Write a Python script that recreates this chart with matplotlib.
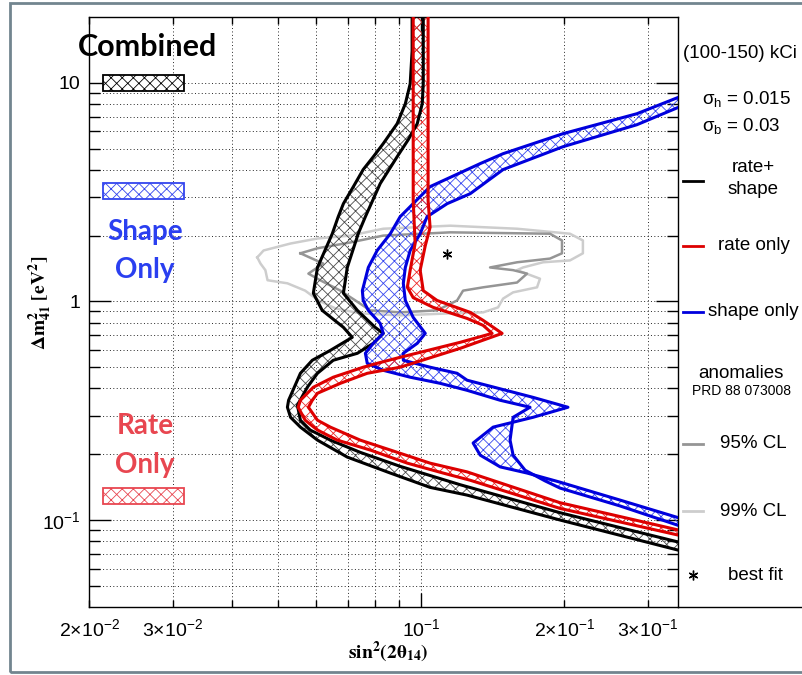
import numpy as np
import matplotlib.pyplot as plt
from matplotlib.patches import Rectangle
from matplotlib.ticker import FixedLocator, FuncFormatter

plt.rcParams['font.family'] = ['Liberation Sans', 'DejaVu Sans']
plt.rcParams['mathtext.fontset'] = 'custom'
plt.rcParams['mathtext.rm'] = 'Liberation Sans'
plt.rcParams['mathtext.it'] = 'Liberation Sans:italic'
plt.rcParams['mathtext.bf'] = 'Liberation Sans:bold'
plt.rcParams['hatch.linewidth'] = 0.6

# --- contour data: sin^2(2theta14), dm^2_41 [eV^2] --- #
# rate+shape band, outer (left) and inner (right) contour
comb_a_x = [0.0957, 0.0957, 0.0948, 0.0926, 0.0890, 0.0832, 0.0793, 0.0755, 0.0720, 0.0686,
            0.0669, 0.0650, 0.0605, 0.0593, 0.0619, 0.0686, 0.0716, 0.0644, 0.0590, 0.0557,
            0.0526, 0.0523, 0.0531, 0.0557, 0.0605, 0.0699, 0.0861, 0.1044, 0.1249, 0.1959, 0.350]
comb_a_y = [21, 14, 9.89, 8.02, 6.50, 5.27, 4.59, 4.01, 3.35, 2.80,
            2.44, 2.04, 1.43, 1.09, 0.910, 0.761, 0.685, 0.597, 0.538, 0.469,
            0.353, 0.328, 0.295, 0.266, 0.232, 0.194, 0.164, 0.141, 0.130, 0.100, 0.0725]
comb_b_x = [0.1010, 0.1010, 0.1010, 0.1005, 0.0981, 0.0939, 0.0890, 0.0820, 0.0763, 0.0737,
            0.0699, 0.0686, 0.0734, 0.0800, 0.0832, 0.0793, 0.0734, 0.0653, 0.0605, 0.0576,
            0.0549, 0.0557, 0.0584, 0.0644, 0.0744, 0.0903, 0.1208, 0.1959, 0.350]
comb_b_y = [21, 14, 9.89, 8.02, 6.50, 5.49, 4.59, 3.46, 2.44, 2.04,
            1.43, 1.09, 0.910, 0.761, 0.714, 0.643, 0.579, 0.538, 0.469, 0.405,
            0.335, 0.286, 0.258, 0.232, 0.204, 0.176, 0.145, 0.108, 0.079]

# rate only band
rate_a_x = [0.0962, 0.0962, 0.0971, 0.0948, 0.0935, 0.0962, 0.1060, 0.1249, 0.1350, 0.1410,
            0.1208, 0.0903, 0.0808, 0.0755, 0.0653, 0.0593, 0.0557, 0.0551, 0.0570, 0.0605,
            0.0666, 0.0781, 0.0935, 0.1112, 0.1268, 0.1959, 0.350]
rate_a_y = [21, 2.89, 1.84, 1.39, 1.16, 1.04, 0.939, 0.836, 0.777, 0.714,
            0.650, 0.555, 0.521, 0.500, 0.450, 0.405, 0.353, 0.328, 0.286, 0.258,
            0.232, 0.209, 0.182, 0.164, 0.152, 0.113, 0.0850]
rate_b_x = [0.1034, 0.1034, 0.1044, 0.1020, 0.0995, 0.1010, 0.1080, 0.1268, 0.1350, 0.1480,
            0.1208, 0.0903, 0.0770, 0.0676, 0.0605, 0.0590, 0.0579, 0.0605, 0.0644, 0.0744,
            0.0861, 0.1044, 0.1249, 0.1959, 0.350]
rate_b_y = [21, 2.89, 2.18, 1.80, 1.39, 1.12, 1.01, 0.891, 0.819, 0.714,
            0.610, 0.500, 0.469, 0.422, 0.380, 0.353, 0.328, 0.286, 0.266, 0.232,
            0.209, 0.182, 0.166, 0.120, 0.0897]

# shape only band
shape_a_x = [0.350, 0.2843, 0.1987, 0.1487, 0.1331, 0.1044, 0.0903, 0.0861, 0.0808, 0.0774,
             0.0752, 0.0755, 0.0774, 0.0820, 0.0832, 0.0793, 0.0763, 0.0770, 0.0832, 0.0948,
             0.1096, 0.1249, 0.1466, 0.1694, 0.1561, 0.1538, 0.1561, 0.1654, 0.1822, 0.1959,
             0.2619, 0.350]
shape_a_y = [8.63, 7.22, 5.85, 4.74, 4.27, 3.35, 2.44, 2.04, 1.71, 1.43,
             1.12, 1.01, 0.910, 0.793, 0.714, 0.643, 0.579, 0.521, 0.484, 0.450,
             0.422, 0.392, 0.353, 0.328, 0.295, 0.232, 0.198, 0.169, 0.151, 0.140,
             0.116, 0.0940]
shape_b_x = [0.350, 0.2843, 0.1987, 0.1487, 0.1268, 0.1134, 0.1029, 0.0995, 0.0948, 0.0926,
             0.0917, 0.0926, 0.0962, 0.1020, 0.0981, 0.0917, 0.0917, 0.1044, 0.1190, 0.1249,
             0.1719, 0.2036, 0.1719, 0.1417, 0.1286, 0.1331, 0.1466, 0.1670, 0.1959, 0.2619,
             0.350]
shape_b_y = [7.77, 6.43, 5.10, 4.01, 3.11, 2.80, 2.44, 2.04, 1.71, 1.43,
             1.21, 1.01, 0.845, 0.714, 0.643, 0.579, 0.538, 0.500, 0.469, 0.436,
             0.364, 0.328, 0.295, 0.266, 0.225, 0.198, 0.175, 0.164, 0.149, 0.1234,
             0.102]

# anomalies (PRD 88 073008)
cl99_x = [0.0452, 0.0466, 0.0531, 0.0605, 0.0709, 0.0832, 0.1151, 0.1591, 0.2056, 0.2189,
          0.2189, 0.2056, 0.1804, 0.1638, 0.1591, 0.1778, 0.1753, 0.1561, 0.1487, 0.1451,
          0.1350, 0.1151, 0.0903, 0.0744, 0.0660, 0.0608, 0.0570, 0.0523, 0.0475, 0.0470,
          0.0459, 0.0452]
cl99_y = [1.59, 1.71, 1.84, 1.94, 2.00, 2.15, 2.22, 2.15, 2.04, 1.90,
          1.66, 1.54, 1.51, 1.43, 1.39, 1.27, 1.16, 1.10, 1.03, 0.939,
          0.891, 0.882, 0.863, 0.882, 0.929, 1.01, 1.12, 1.21, 1.25, 1.39,
          1.49, 1.59]
cl95_x = [0.0557, 0.0605, 0.0709, 0.0832, 0.1151, 0.1866, 0.1978, 0.1978, 0.1866, 0.1591,
          0.1396, 0.1561, 0.1670, 0.1591, 0.1350, 0.1225, 0.1190, 0.1080, 0.0903, 0.0781,
          0.0727, 0.0676, 0.0613, 0.0579, 0.0622, 0.0557]
cl95_y = [1.66, 1.75, 1.86, 2.00, 2.07, 2.04, 1.90, 1.66, 1.57, 1.51,
          1.43, 1.39, 1.34, 1.22, 1.16, 1.12, 1.01, 0.910, 0.891, 0.910,
          1.01, 1.12, 1.25, 1.34, 1.49, 1.66]
best_fit_x = [0.1134]
best_fit_y = [1.64]

x_tick_vals = [0.02, 0.03, 0.1, 0.2, 0.3]
x_tick_text = [r'$2{\times}10^{-2}$', r'$3{\times}10^{-2}$', r'$10^{-1}$',
               r'$2{\times}10^{-1}$', r'$3{\times}10^{-1}$']
y_tick_vals = [0.1, 1, 10]
y_tick_text = [r'$10^{-1}$', '1', '10']

BLACK = '#000000'
RED = '#dd0000'
BLUE = '#0000dd'
GRAY95 = '#959595'
GRAY99 = '#cdcdcd'

W, H = 802, 675
fig = plt.figure(figsize=(W / 100, H / 100), dpi=100)
ax = fig.add_axes([89 / W, 1 - 607 / H, 589 / W, 590 / H])
ax.set_xscale('log')
ax.set_yscale('log')
ax.set_xlim(0.02, 0.347)
ax.set_ylim(0.04, 20)


def draw_band(xa, ya, xb, yb, line_col, hatch_col):
    px = list(xa) + list(xb)[::-1]
    py = list(ya) + list(yb)[::-1]
    ax.fill(px, py, facecolor='none', edgecolor=hatch_col, hatch='xxx', linewidth=0, zorder=2)
    ax.plot(xa, ya, color=line_col, lw=2.2, zorder=3)
    ax.plot(xb, yb, color=line_col, lw=2.2, zorder=3)


ax.plot(cl99_x, cl99_y, color=GRAY99, lw=1.8, zorder=1.5)
ax.plot(cl95_x, cl95_y, color=GRAY95, lw=1.8, zorder=1.6)
ax.plot(best_fit_x, best_fit_y, ls='none', marker=(6, 2, 0), ms=7, mew=1, color='black')

draw_band(comb_a_x, comb_a_y, comb_b_x, comb_b_y, BLACK, '#4a4a4a')
draw_band(shape_a_x, shape_a_y, shape_b_x, shape_b_y, BLUE, '#3848f0')
draw_band(rate_a_x, rate_a_y, rate_b_x, rate_b_y, RED, '#ee2a2a')

# --- ticks and grid --- #
x_minor = [0.02, 0.03, 0.04, 0.05, 0.06, 0.07, 0.08, 0.09, 0.2, 0.3]
ax.xaxis.set_major_locator(FixedLocator([0.1]))
ax.xaxis.set_minor_locator(FixedLocator(x_minor))
y_minor = [v * d for d in (0.01, 0.1, 1) for v in range(2, 10)]
ax.yaxis.set_major_locator(FixedLocator(y_tick_vals))
ax.yaxis.set_minor_locator(FixedLocator([v for v in y_minor if v >= 0.05]))


def xfmt(v, pos):
    for tv, tt in zip(x_tick_vals, x_tick_text):
        if abs(v - tv) < 1e-9:
            return tt
    return ''


def yfmt(v, pos):
    for tv, tt in zip(y_tick_vals, y_tick_text):
        if abs(v - tv) < 1e-9:
            return tt
    return ''


ax.xaxis.set_major_formatter(FuncFormatter(xfmt))
ax.xaxis.set_minor_formatter(FuncFormatter(xfmt))
ax.yaxis.set_major_formatter(FuncFormatter(yfmt))
ax.yaxis.set_minor_formatter(FuncFormatter(lambda v, p: ''))

ax.tick_params(which='both', direction='in', top=True, right=True, labelsize=14, width=1)
ax.tick_params(axis='y', which='major', length=16, pad=6)
ax.tick_params(axis='y', which='minor', length=8)
ax.tick_params(axis='x', which='major', length=10, pad=8)
ax.tick_params(axis='x', which='minor', length=5, pad=8)
ax.grid(True, which='both', color='black', ls=(0, (1, 2.5)), lw=0.7, alpha=0.85)
ax.set_axisbelow(True)
for s in ax.spines.values():
    s.set_linewidth(1.0)

fig.text(388 / W, 1 - 652 / H, r'$\mathbf{sin^{2}(2\theta_{14})}$', ha='center', va='center',
         fontsize=14, math_fontfamily='stix')
fig.text(40 / W, 1 - 303 / H, r'$\mathbf{\Delta m^{2}_{41}\ [eV^{2}]}$', ha='center', va='center',
         rotation=90, fontsize=14, math_fontfamily='stix')

# --- labels inside the frame --- #
lab_font = ['Lato', 'DejaVu Sans']
ax.text(0.0985, 0.949, 'Combined', transform=ax.transAxes, ha='center', va='center',
        fontsize=22, weight='bold', family=lab_font, color='black', clip_on=False)
ax.text(0.095, 0.636, 'Shape', transform=ax.transAxes, ha='center', va='center',
        fontsize=20, weight='bold', family=lab_font, color='#2a3ff0')
ax.text(0.095, 0.571, 'Only', transform=ax.transAxes, ha='center', va='center',
        fontsize=20, weight='bold', family=lab_font, color='#2a3ff0')
ax.text(0.095, 0.307, 'Rate', transform=ax.transAxes, ha='center', va='center',
        fontsize=20, weight='bold', family=lab_font, color='#e84650')
ax.text(0.095, 0.241, 'Only', transform=ax.transAxes, ha='center', va='center',
        fontsize=20, weight='bold', family=lab_font, color='#e84650')
for y0, col in [(0.875, 'black'), (0.6915, '#3344ee'), (0.1746, '#e84650')]:
    ax.add_patch(Rectangle((0.0245, y0), 0.136, 0.027, transform=ax.transAxes,
                           facecolor='white', edgecolor=col, hatch='xxx', lw=1.3, zorder=4))

# --- legend panel on the right --- #
lax = fig.add_axes([678 / W, 1 - 607 / H, 124 / W, 590 / H])
lax.set_xlim(0, 124)
lax.set_ylim(590, 0)
lax.set_xticks([])
lax.set_yticks([])
lax.patch.set_alpha(0)
for s in ['left', 'top', 'right']:
    lax.spines[s].set_visible(False)
lax.spines['bottom'].set_linewidth(1.0)

fs = 13.5
lax.text(62, 36, '(100-150) kCi', ha='center', va='center', fontsize=fs)
lax.text(24, 82, r'$\mathrm{\sigma_{h}}$ = 0.015', ha='left', va='center', fontsize=fs)
lax.text(24, 109, r'$\mathrm{\sigma_{b}}$ = 0.03', ha='left', va='center', fontsize=fs)
lax.plot([5, 25], [164, 164], color=BLACK, lw=2)
lax.text(75, 151, 'rate+', ha='center', va='center', fontsize=fs)
lax.text(75, 172, 'shape', ha='center', va='center', fontsize=fs)
lax.plot([5, 25], [229, 229], color=RED, lw=2)
lax.text(40, 228, 'rate only', ha='left', va='center', fontsize=fs)
lax.plot([5, 25], [295, 295], color=BLUE, lw=2)
lax.text(30, 294, 'shape only', ha='left', va='center', fontsize=fs)
lax.text(63, 356, 'anomalies', ha='center', va='center', fontsize=fs)
lax.text(63, 374, 'PRD 88 073008', ha='center', va='center', fontsize=10)
lax.plot([5, 25], [427, 427], color=GRAY95, lw=2)
lax.text(42, 427, '95% CL', ha='left', va='center', fontsize=fs)
lax.plot([5, 25], [494, 494], color=GRAY99, lw=2)
lax.text(42, 494, '99% CL', ha='left', va='center', fontsize=fs)
lax.plot([15], [558], ls='none', marker=(6, 2, 0), ms=7, mew=1, color='black')
lax.text(50, 558, 'best fit', ha='left', va='center', fontsize=fs)

# outer frame of the picture
fig.add_artist(Rectangle((10 / W, 3 / H), 795 / W, 669 / H, transform=fig.transFigure,
                         fill=False, edgecolor='#72858f', lw=2))

fig.savefig('out.png', dpi=100)
